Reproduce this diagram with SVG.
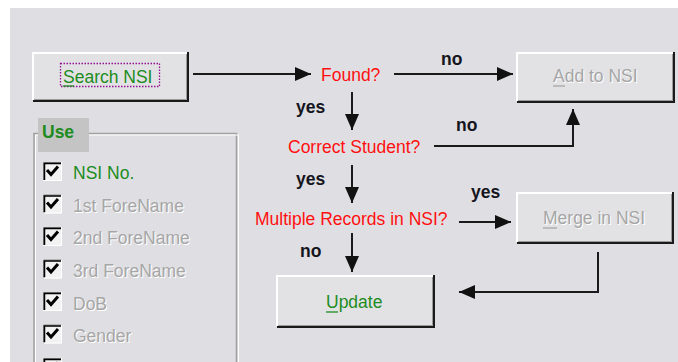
<svg xmlns="http://www.w3.org/2000/svg" width="678" height="362" viewBox="0 0 678 362">
<defs>
<style>
text{font-family:"Liberation Sans",Arial,sans-serif;font-size:17.5px}
.q{fill:#ff1010}
.lbl{fill:#151520;font-weight:bold}
.grn{fill:#1e8c1e}
.dis{fill:#a6a6a6}
.sh{fill:#ffffff}
.face{fill:#e2e2e5}
.hi{fill:none;stroke:#ffffff;stroke-width:2}
.lo{fill:none;stroke:#1a1a1a;stroke-width:2}
.mid{fill:none;stroke:#9a9a9a;stroke-width:1}
.conn path{fill:none;stroke:#1a1a1a;stroke-width:2}
.ul{stroke-width:1.3}
</style>
<marker id="ah" markerUnits="userSpaceOnUse" markerWidth="17" markerHeight="14" refX="16" refY="7" orient="auto">
<path d="M0,0 L16,7 L0,14 z" fill="#111"/>
</marker>
<g id="cb">
<rect x="0" y="0" width="19" height="19" fill="#f2f2f2"/>
<path d="M0.5,19 V0.5 H19" fill="none" stroke="#808080" stroke-width="1"/>
<path d="M1.5,18 V1.5 H18" fill="none" stroke="#000" stroke-width="1.5"/>
<path d="M0,18.5 H18.5 V0" fill="none" stroke="#ffffff" stroke-width="1"/>
<path d="M4,8 L8,12.5 L15,4.5" fill="none" stroke="#000" stroke-width="3"/>
</g>
</defs>
<rect x="0" y="0" width="678" height="362" fill="#ffffff"/>
<rect x="10" y="8" width="668" height="354" fill="#dfdfe3"/>

<g id="search-nsi">
<rect class="face" x="33" y="52" width="155" height="49"/>
<path class="mid" d="M34,99.5 H186.5 V53"/>
<path class="lo" d="M33,101 H188 V52"/>
<path class="hi" d="M33,100 V53 H187"/>
<rect x="60.5" y="63.5" width="99" height="23" fill="none" stroke="#901090" stroke-width="1.3" stroke-dasharray="1.5,1.5"/>
<text class="grn" x="63" y="83">Search NSI</text>
<line x1="63" y1="86" x2="74" y2="86" stroke="#1e8c1e" class="ul"/>
</g>

<g id="add-to-nsi">
<rect class="face" x="517" y="52" width="157" height="50"/>
<path class="mid" d="M518,100.5 H672.5 V53"/>
<path class="lo" d="M517,102 H674 V52"/>
<path class="hi" d="M517,101 V53 H673"/>
<text class="sh" x="554" y="83">Add to NSI</text>
<text class="dis" x="553" y="82">Add to NSI</text>
<line x1="553" y1="86" x2="565" y2="86" stroke="#a6a6a6" class="ul"/>
</g>

<g id="merge-in-nsi">
<rect class="face" x="517" y="192" width="156" height="51"/>
<path class="mid" d="M518,241.5 H671.5 V193"/>
<path class="lo" d="M517,243 H673 V192"/>
<path class="hi" d="M517,242 V193 H672"/>
<text class="sh" x="544" y="225">Merge in NSI</text>
<text class="dis" x="543" y="224">Merge in NSI</text>
<line x1="543" y1="228" x2="557" y2="228" stroke="#a6a6a6" class="ul"/>
</g>

<g id="update">
<rect class="face" x="277" y="275" width="157" height="52"/>
<path class="mid" d="M278,325.5 H432.5 V276"/>
<path class="lo" d="M277,327 H434 V275"/>
<path class="hi" d="M277,326 V276 H433"/>
<text class="grn" x="326" y="308">Update</text>
<line x1="326" y1="312" x2="338" y2="312" stroke="#1e8c1e" class="ul"/>
</g>

<g id="found">
<text class="q" x="321" y="81">Found?</text>
</g>
<g id="correct-student">
<text class="q" x="288" y="153">Correct Student?</text>
</g>
<g id="multiple-records">
<text class="q" x="255" y="225">Multiple Records in NSI?</text>
</g>

<g class="conn" id="connectors">
<path d="M193,74 H311" marker-end="url(#ah)"/>
<path d="M394,74 H513" marker-end="url(#ah)"/>
<path d="M352,92 V130" marker-end="url(#ah)"/>
<path d="M434,146 H573 V109" marker-end="url(#ah)"/>
<path d="M352,165 V203" marker-end="url(#ah)"/>
<path d="M459,222 H511" marker-end="url(#ah)"/>
<path d="M352,233 V272" marker-end="url(#ah)"/>
<path d="M598,252 V292 H459" marker-end="url(#ah)"/>
<text class="lbl" x="441" y="65">no</text>
<text class="lbl" x="296" y="113">yes</text>
<text class="lbl" x="456" y="131">no</text>
<text class="lbl" x="296" y="185">yes</text>
<text class="lbl" x="471" y="198">yes</text>
<text class="lbl" x="300" y="257">no</text>
</g>

<g id="use-group">
<path d="M34,362 V133.5 H236.5 V362" fill="none" stroke="#a0a0a0" stroke-width="1.5"/>
<path d="M35.5,362 V135 H238.5 V362" fill="none" stroke="#ffffff" stroke-width="1"/>
<rect x="38" y="118" width="51" height="34" fill="#c4c4c4"/>
<text class="grn" x="42" y="138" font-weight="bold">Use</text>
<use href="#cb" x="43" y="162"/>
<text class="grn" x="73" y="179">NSI No.</text>
<use href="#cb" x="43" y="194.5"/>
<text class="sh" x="74" y="213">1st ForeName</text>
<text class="dis" x="73" y="212">1st ForeName</text>
<use href="#cb" x="43" y="227"/>
<text class="sh" x="74" y="245">2nd ForeName</text>
<text class="dis" x="73" y="244">2nd ForeName</text>
<use href="#cb" x="43" y="259.5"/>
<text class="sh" x="74" y="278">3rd ForeName</text>
<text class="dis" x="73" y="277">3rd ForeName</text>
<use href="#cb" x="43" y="292"/>
<text class="sh" x="74" y="311">DoB</text>
<text class="dis" x="73" y="310">DoB</text>
<use href="#cb" x="43" y="324.5"/>
<text class="sh" x="74" y="343">Gender</text>
<text class="dis" x="73" y="342">Gender</text>
<use href="#cb" x="43" y="358"/>
</g>
</svg>
